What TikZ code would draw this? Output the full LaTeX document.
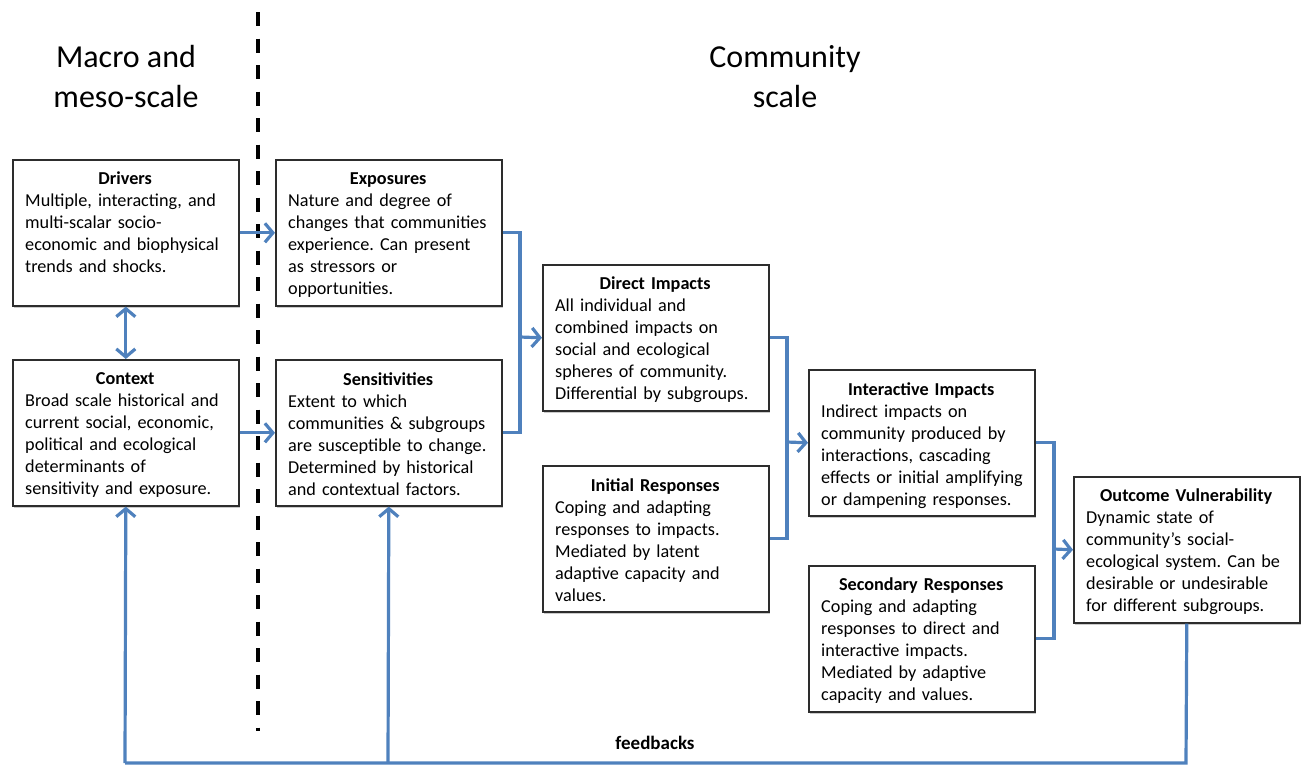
\documentclass[tikz,border=0pt]{standalone}
\usepackage{fontspec}
\setmainfont{Carlito}
\usetikzlibrary{arrows.meta,shadows}
\definecolor{fblue}{RGB}{79,129,189}
\definecolor{boxline}{RGB}{45,45,45}
\frenchspacing
\hyphenpenalty=10000
\exhyphenpenalty=10000
\newcommand{\boxfont}{\fontsize{18.2}{22}\selectfont}
\newcommand{\ttlline}[1]{\makebox[200pt]{\bfseries #1}}
\begin{document}
\begin{tikzpicture}[x=1pt,y=-1pt,
  box/.style={draw=boxline, line width=1.6pt, fill=white, minimum width=226pt, minimum height=146pt,
    anchor=north west, inner sep=0pt,
    drop shadow={shadow xshift=1.5pt, shadow yshift=-2.5pt, fill=black!45, opacity=0.45}},
  txt/.style={anchor=north west, text width=212pt, inner sep=0pt, align=left,
    font=\boxfont, xshift=13pt, yshift=-13pt},
  head/.style={align=center, font=\fontsize{32}{40}\selectfont, anchor=north, inner sep=0pt},
  conn/.style={fblue, line width=3.2pt},
  arr/.style={conn, -{Straight Barb[length=8pt,width=19pt]}},
  darr/.style={conn, {Straight Barb[length=8pt,width=19pt]}-{Straight Barb[length=8pt,width=19pt]}}
]
\useasboundingbox (0,0) rectangle (1301,766);

% dashed divider
\coordinate (dtop) at (258,12);
\coordinate (dbot) at (258,731);
\draw[line width=4pt, black, dash pattern=on 14pt off 12.5pt] (dtop) -- (dbot);

% headings
\node[head] (macro) at (126,45) {Macro and\\meso-scale};
\node[head] (comm) at (785,45) {Community\\scale};

% boxes
\node[box] (drivers) at (12,159) {};
\node[box] (context) at (12,359) {};
\node[box] (expo) at (275,159) {};
\node[box] (sens) at (275,359) {};
\node[box] (direct) at (542,264) {};
\node[box] (initial) at (542,465) {};
\node[box] (inter) at (808,369) {};
\node[box] (second) at (808,565) {};
\node[box] (outcome) at (1073,476) {};

\node[txt] (drivers-t) at (drivers.north west) {\ttlline{Drivers}\\Multiple, interacting, and\\multi-scalar socio-\\economic and biophysical\\trends and shocks.};
\node[txt] (context-t) at (context.north west) {\ttlline{Context}\\Broad scale historical and\\current social, economic,\\political and ecological\\determinants of\\sensitivity and exposure.};
\node[txt] (expo-t) at (expo.north west) {\ttlline{Exposures}\\Nature and degree of\\changes that communities\\experience. Can present\\as stressors or\\opportunities.};
\node[txt] (sens-t) at (sens.north west) {\ttlline{Sensitivities}\\Extent to which\\communities \& subgroups\\are susceptible to change.\\Determined by historical\\and contextual factors.};
\node[txt] (direct-t) at (direct.north west) {\ttlline{Direct Impacts}\\All individual and\\combined impacts on\\social and ecological\\spheres of community.\\Differential by subgroups.};
\node[txt] (initial-t) at (initial.north west) {\ttlline{Initial Responses}\\Coping and adapting\\responses to impacts.\\Mediated by latent\\adaptive capacity and\\values.};
\node[txt] (inter-t) at (inter.north west) {\ttlline{Interactive Impacts}\\Indirect impacts on\\community produced by\\interactions, cascading\\effects or initial amplifying\\or dampening responses.};
\node[txt] (second-t) at (second.north west) {\ttlline{Secondary Responses}\\Coping and adapting\\responses to direct and\\interactive impacts.\\Mediated by adaptive\\capacity and values.};
\node[txt] (outcome-t) at (outcome.north west) {\ttlline{Outcome Vulnerability}\\Dynamic state of\\community’s social-\\ecological system. Can be\\desirable or undesirable\\for different subgroups.};

% connectors
\draw[darr] (drivers.south) -- (context.north);
\draw[arr] (drivers.east) -- (expo.west);
\draw[arr] (context.east) -- (sens.west);

\coordinate (j1) at (520,337);
\draw[conn] (expo.east) -| (j1) |- (sens.east);
\draw[arr] (j1) -- (direct.west);

\coordinate (j2) at (787,442);
\draw[conn] (direct.east) -| (j2) |- (initial.east);
\draw[arr] (j2) -- (inter.west);

\coordinate (j3) at (1054,549);
\draw[conn] (inter.east) -| (j3) |- (second.east);
\draw[arr] (j3) -- (outcome.west);

% feedbacks
\coordinate (fb1) at (1186,763);
\coordinate (fb2) at (388,763);
\coordinate (fb3) at (125,763);
\draw[conn] (outcome.south) -- (fb1) -- (fb3);
\draw[arr] (fb3) -- (context.south);
\draw[arr] (fb2) -- (sens.south);
\node[font=\fontsize{19}{22}\selectfont\bfseries, inner sep=0pt] (fbl) at (655,743) {feedbacks};
\end{tikzpicture}
\end{document}
